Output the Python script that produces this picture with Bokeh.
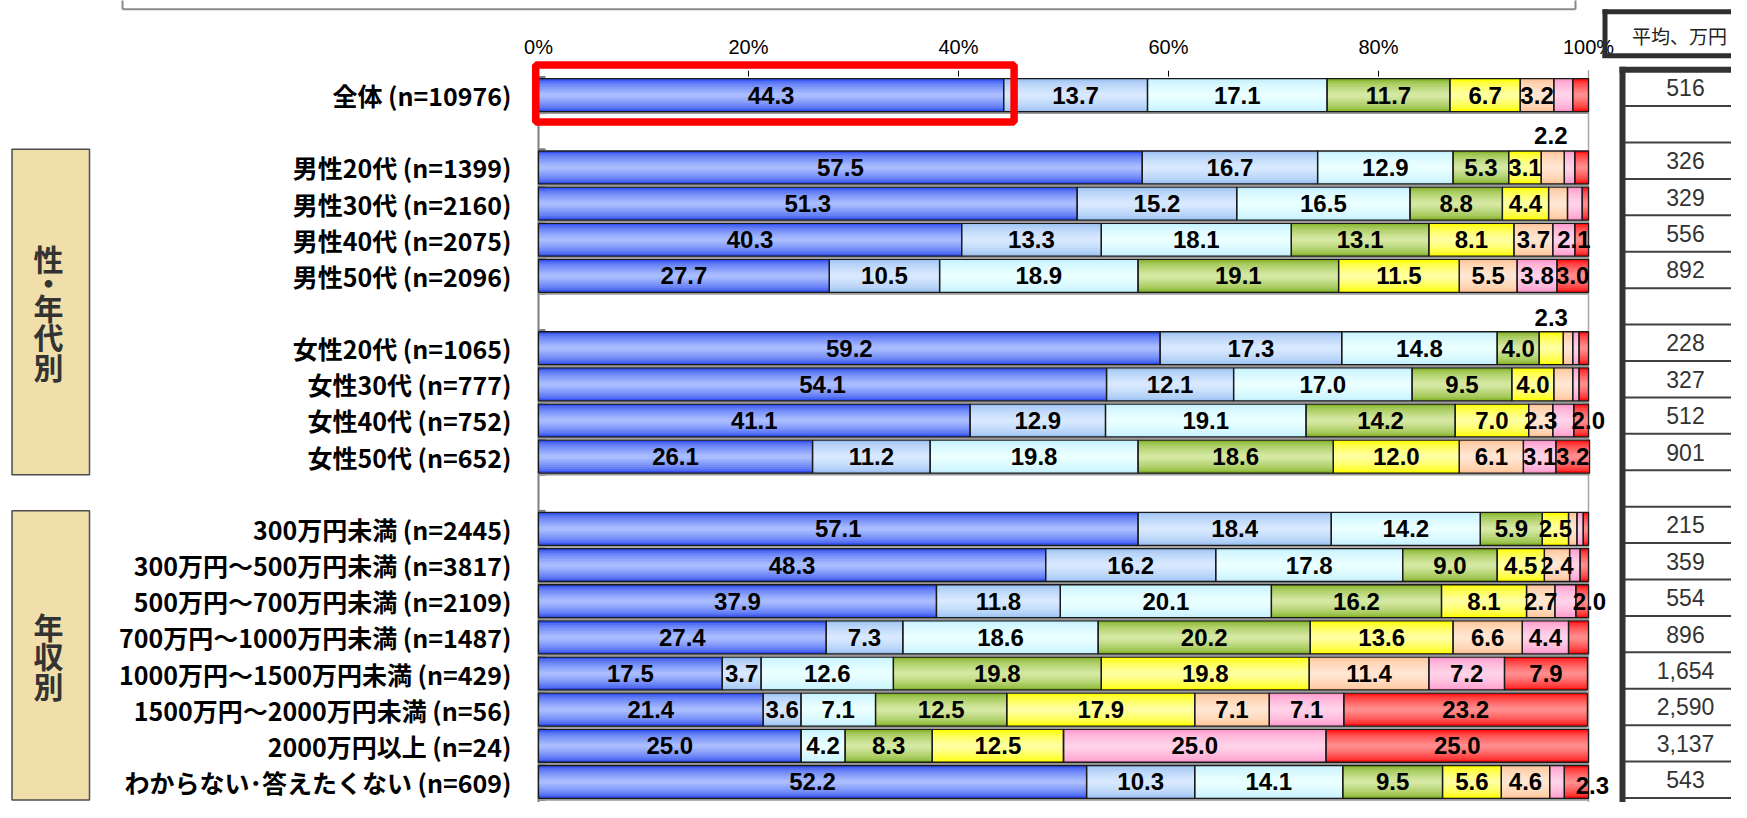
import numpy as np
from bokeh.plotting import figure
from bokeh.models import ColumnDataSource, Range1d
from bokeh.core.properties import value
from bokeh.embed import file_html
from bokeh.resources import INLINE

# ---------------- data ----------------
categories = [
    "全体 (n=10976)",
    "男性20代 (n=1399)", "男性30代 (n=2160)", "男性40代 (n=2075)", "男性50代 (n=2096)",
    "女性20代 (n=1065)", "女性30代 (n=777)", "女性40代 (n=752)", "女性50代 (n=652)",
    "300万円未満 (n=2445)", "300万円～500万円未満 (n=3817)", "500万円～700万円未満 (n=2109)",
    "700万円～1000万円未満 (n=1487)", "1000万円～1500万円未満 (n=429)",
    "1500万円～2000万円未満 (n=56)", "2000万円以上 (n=24)", "わからない･答えたくない (n=609)",
]
block_sizes = [1, 4, 4, 8]
group_titles = ["性・年代別", "年収別"]
group_blocks = [[1, 2], [3]]

s1 = [44.3, 57.5, 51.3, 40.3, 27.7, 59.2, 54.1, 41.1, 26.1, 57.1, 48.3, 37.9, 27.4, 17.5, 21.4, 25.0, 52.2]
s2 = [13.7, 16.7, 15.2, 13.3, 10.5, 17.3, 12.1, 12.9, 11.2, 18.4, 16.2, 11.8, 7.3, 3.7, 3.6, 0.0, 10.3]
s3 = [17.1, 12.9, 16.5, 18.1, 18.9, 14.8, 17.0, 19.1, 19.8, 14.2, 17.8, 20.1, 18.6, 12.6, 7.1, 4.2, 14.1]
s4 = [11.7, 5.3, 8.8, 13.1, 19.1, 4.0, 9.5, 14.2, 18.6, 5.9, 9.0, 16.2, 20.2, 19.8, 12.5, 8.3, 9.5]
s5 = [6.7, 3.1, 4.4, 8.1, 11.5, 2.3, 4.0, 7.0, 12.0, 2.5, 4.5, 8.1, 13.6, 19.8, 17.9, 12.5, 5.6]
s6 = [3.2, 2.2, 1.8, 3.7, 5.5, 0.9, 1.8, 2.3, 6.1, 0.8, 2.4, 2.7, 6.6, 11.4, 7.1, 0.0, 4.6]
s7 = [1.8, 1.0, 1.4, 2.1, 3.8, 0.6, 0.6, 2.0, 3.1, 0.6, 1.0, 2.0, 4.4, 7.2, 7.1, 25.0, 1.4]
s8 = [1.5, 1.3, 0.6, 1.3, 3.0, 0.9, 0.9, 1.4, 3.2, 0.5, 0.8, 1.2, 1.9, 7.9, 23.2, 25.0, 2.3]
series = [s1, s2, s3, s4, s5, s6, s7, s8]

avg_income = ["516", "326", "329", "556", "892", "228", "327", "512", "901",
              "215", "359", "554", "896", "1,654", "2,590", "3,137", "543"]
avg_header = "平均、万円"

tick_values = [0, 20, 40, 60, 80, 100]
tick_labels = ["0%", "20%", "40%", "60%", "80%", "100%"]

# ---------------- styles / layout ----------------
series_colors = [  # (edge, centre) of the vertical gradient
    ("#3250EE", "#A8BCFF"),
    ("#9CC2F2", "#D8E9FF"),
    ("#C4F1FF", "#EAFFFF"),
    ("#86B42C", "#D4E8A2"),
    ("#FFFF00", "#FFFFA0"),
    ("#FFC398", "#FFE6D2"),
    ("#FF99CC", "#FFD2E8"),
    ("#FF1010", "#FF8C8C"),
]
# manual label nudges in pixels: (row, series) -> (dx, dy)
label_nudge = {(1, 5): (-2, -33), (5, 4): (0, -31), (3, 6): (10, 0),
               (7, 6): (25, 0), (11, 6): (24, 0), (16, 7): (16, 4)}

W, H = 1731, 802
REF_W, REF_H = 1731, 822  # reference area shown (vertically fitted into H)
X0, PXP = 538.0, 10.5     # x of 0%, pixels per percent
Y0, PXS = 97.0, 37.05     # y of first slot, pixels per slot (reference pixels)


def dx(px):
    return (px - X0) / PXP


def dy(py):
    return (py - Y0) / PXS


def lerp(c1, c2, t):
    a = [int(c1[i:i + 2], 16) for i in (1, 3, 5)]
    b = [int(c2[i:i + 2], 16) for i in (1, 3, 5)]
    return "#%02X%02X%02X" % tuple(int(round(a[j] + (b[j] - a[j]) * t)) for j in range(3))


slots = []
block_slots = []
s = 0
for b in block_sizes:
    bl = []
    for j in range(b):
        slots.append(s)
        bl.append(s)
        s += 1
    block_slots.append(bl)
    s += 1
n_slots = s - 1

p = figure(width=W, height=H, output_backend="svg", toolbar_location=None,
           x_range=Range1d(dx(0), dx(REF_W)), y_range=Range1d(dy(REF_H), dy(0)),
           x_axis_location=None, y_axis_location=None, min_border=0,
           outline_line_color=None, background_fill_color="white",
           border_fill_color="white")
p.xgrid.visible = False
p.ygrid.visible = False

JP = value("Noto Sans CJK JP")
AR = value("Liberation Sans")

# top frame of the slide (cut off)
p.segment(x0=[dx(122), dx(122), dx(1575)], y0=[dy(9), dy(9), dy(9)],
          x1=[dx(1575), dx(122), dx(1575)], y1=[dy(9), dy(-20), dy(-20)],
          line_color="#8A8A8A", line_width=2)

# group side boxes
for title, blocks in zip(group_titles, group_blocks):
    ss = [sl for bi in blocks for sl in block_slots[bi]]
    top, bot = min(ss) - 0.5, max(ss) + 0.5
    p.quad(left=[dx(11.5)], right=[dx(89)], top=[top], bottom=[bot],
           fill_color="#F0DFAB", line_color="#4D4D4D", line_width=1.5)
    adv = []
    chars = list(title)
    for i in range(1, len(chars)):
        adv.append(25 if "・" in (chars[i], chars[i - 1]) else 30.5)
    total = sum(adv)
    mid_px = Y0 + PXS * (top + bot) / 2
    ys = [mid_px - total / 2]
    for a in adv:
        ys.append(ys[-1] + a)
    p.text(x=[dx(48)] * len(chars), y=[dy(v) for v in ys], text=chars,
           text_font=JP, text_font_style="bold", text_font_size="30px",
           text_color="#333333", text_align="center", text_baseline="middle")

# category labels
p.text(x=[dx(511)] * len(categories), y=slots, text=categories,
       text_font=JP, text_font_style="bold", text_font_size="25px",
       text_color="#000000", text_align="right", text_baseline="middle")

# axis decorations
p.text(x=tick_values, y=[dy(48)] * len(tick_values), text=tick_labels,
       text_font=AR, text_font_size="20px", text_color="#000000",
       text_align="center", text_baseline="middle")
p.segment(x0=tick_values, y0=[dy(72)] * 6, x1=tick_values, y1=[dy(78)] * 6,
          line_color="#000000", line_width=1)
p.segment(x0=[0], y0=[dy(78)], x1=[0], y1=[n_slots + 2], line_color="#7F7F7F", line_width=2)
p.segment(x0=[100], y0=[dy(72)], x1=[100], y1=[n_slots + 2], line_color="#A6A6A6", line_width=1.5)
bnd = [k + 0.5 for k in range(-1, n_slots + 1)]
p.segment(x0=[0] * len(bnd), y0=bnd, x1=[dx(545)] * len(bnd), y1=bnd,
          line_color="#7F7F7F", line_width=2)

BAR_H = 0.91
# shadow
p.hbar(y=[v + 2.5 / PXS for v in slots], left=0, right=[sum(r) for r in zip(*series)],
       height=BAR_H, fill_color="#9A9A9A", line_color=None)

arr = np.array(series)
cum = np.cumsum(arr, axis=0)
lefts = cum - arr
K = 8
srcs = []
for i, (edge, cen) in enumerate(series_colors):
    src = ColumnDataSource(dict(y=slots, left=list(lefts[i]), right=list(cum[i])))
    srcs.append(src)
    for k in range(K):
        t = (k / (K - 1)) ** 0.65
        p.hbar(y="y", left="left", right="right", height=BAR_H * (1 - k / K),
               fill_color=lerp(edge, cen, t), line_color=None, source=src)
for src in srcs:
    p.hbar(y="y", left="left", right="right", height=BAR_H, fill_color=None,
           line_color="#1A1A1A", line_width=1.3, source=src)

# value labels
lx, ly, lt = [], [], []
for i in range(len(series)):
    for r in range(len(categories)):
        v = arr[i, r]
        if v < 2.0:
            continue
        ddx, ddy = label_nudge.get((r, i), (0, 0))
        lx.append((lefts[i, r] + cum[i, r]) / 2 + ddx / PXP)
        ly.append(slots[r] + ddy / PXS)
        lt.append("%.1f" % v)
p.text(x=lx, y=ly, text=lt, text_font=AR, text_font_style="bold", text_font_size="24px",
       text_color="#000000", text_align="center", text_baseline="middle")

# red highlight around 全体 blue bar
p.quad(left=[dx(535.2)], right=[dx(1013.6)], top=[dy(66.2)], bottom=[dy(124.5)],
       fill_color=None, line_color="#FF0000", line_width=7.5)

# header box
p.segment(x0=[dx(1604.5), dx(1602), dx(1602)], y0=[dy(9), dy(11.5), dy(56.5)],
          x1=[dx(1604.5), dx(1770), dx(1770)], y1=[dy(59), dy(11.5), dy(56.5)],
          line_color="#2E2E2E", line_width=5)
p.text(x=[dx(1679)], y=[dy(36)], text=[avg_header], text_font=JP, text_font_size="19px",
       text_color="#222222", text_align="center", text_baseline="middle")

# average table
TY0, TPS = 89.5, 37.33
lines_y = [dy(TY0 + TPS * (k + 0.5)) for k in range(n_slots)]
p.segment(x0=[dx(1622)] * len(lines_y), y0=lines_y, x1=[dx(1770)] * len(lines_y), y1=lines_y,
          line_color="#404040", line_width=2)
p.segment(x0=[dx(1619), dx(1622)], y0=[dy(71), dy(68)], x1=[dx(1770), dx(1622)],
          y1=[dy(71), n_slots + 2], line_color="#333333", line_width=6)
p.text(x=[dx(1685)] * len(avg_income), y=[dy(TY0 + TPS * sl) for sl in slots], text=avg_income,
       text_font=AR, text_font_size="23px", text_color="#333333",
       text_align="center", text_baseline="middle")

open("out.html", "w").write(file_html(p, INLINE))
